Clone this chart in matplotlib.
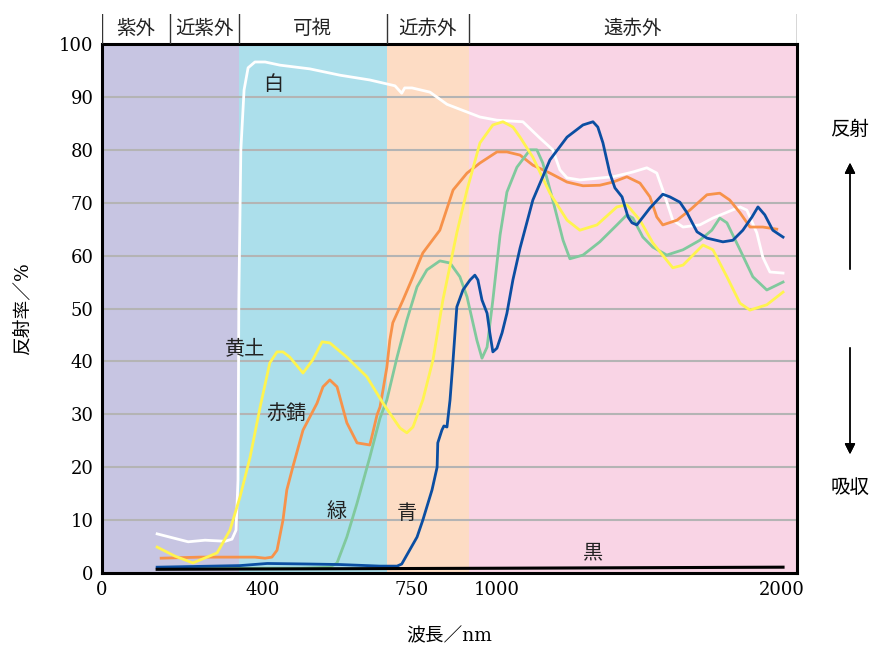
import numpy as np
import matplotlib
matplotlib.use("Agg")
import matplotlib.pyplot as plt

plt.rcParams['font.family'] = ['DejaVu Serif', 'Noto Sans CJK JP']

# wavelength (nm) / reflectance (%)
white_x = [137, 214, 256, 306, 323, 333, 338, 340, 345, 353, 363, 380, 405, 440, 510, 581, 651, 710, 726, 733,
           750, 803, 853, 950, 1000, 1091, 1151, 1196, 1221, 1246, 1291, 1407, 1477, 1526, 1561, 1582, 1617,
           1653, 1712, 1758, 1853, 1877, 1912, 1933, 1958, 2004]
white_y = [7.4, 5.9, 6.2, 6.0, 6.4, 8.1, 17.6, 51.6, 80, 91.3, 95.5, 96.6, 96.6, 96.0, 95.3, 94.1, 93.2, 92.1,
           90.7, 91.7, 91.7, 90.9, 88.6, 86.2, 85.6, 85.3, 82.2, 80, 76.2, 74.7, 74.3, 74.9, 75.8, 76.6, 75.6,
           72.4, 66.7, 65.4, 65.8, 67.1, 69.2, 68.6, 64.3, 59.7, 56.9, 56.7]

yellow_x = [137, 181, 226, 286, 318, 343, 368, 393, 416, 433, 447, 463, 494, 517, 539, 557, 597, 644, 682, 698,
            722, 738, 753, 782, 812, 841, 882, 912, 950, 988, 1021, 1056, 1081, 1126, 1186, 1246, 1291, 1351,
            1421, 1456, 1502, 1547, 1617, 1653, 1723, 1758, 1807, 1853, 1888, 1947, 2004]
yellow_y = [4.9, 3.2, 1.9, 3.8, 8.1, 14.4, 21.9, 31.4, 39.7, 41.8, 41.8, 40.8, 37.8, 40.3, 43.7, 43.5, 40.8,
            37.1, 32.1, 30.2, 27.4, 26.5, 27.6, 32.7, 40.3, 51.6, 64.3, 72.4, 81.3, 84.7, 85.3, 84.3, 82.4,
            78.6, 71.8, 66.7, 64.8, 65.8, 69.2, 69.6, 66.7, 62.4, 57.7, 58.2, 62.0, 61.1, 56.0, 51.0, 49.7,
            50.7, 53.1]

rust_x = [147, 243, 343, 380, 405, 421, 433, 447, 456, 470, 494, 527, 541, 557, 574, 597, 621, 651, 658, 668,
          675, 682, 691, 698, 705, 729, 753, 782, 832, 871, 912, 950, 1000, 1035, 1081, 1126, 1186, 1246,
          1302, 1361, 1407, 1456, 1502, 1537, 1561, 1582, 1632, 1677, 1737, 1782, 1817, 1853, 1888, 1933, 1982]
rust_y = [2.8, 3.0, 3.0, 3.0, 2.8, 3.0, 4.3, 10.0, 15.7, 20.0, 27.0, 32.1, 35.2, 36.5, 35.2, 28.4, 24.6, 24.2,
          26.5, 29.9, 31.4, 34.6, 38.9, 44.0, 47.3, 51.6, 56.0, 60.5, 64.8, 72.4, 75.6, 77.5, 79.6, 79.6,
          79.0, 77.1, 75.6, 73.9, 73.2, 73.3, 73.9, 74.9, 73.7, 71.1, 67.3, 65.8, 66.7, 68.6, 71.5, 71.8,
          70.5, 68.1, 65.4, 65.4, 65.0]

green_x = [144, 368, 490, 557, 574, 597, 621, 651, 675, 691, 715, 738, 765, 794, 832, 862, 891, 912, 941, 956,
           971, 988, 1011, 1035, 1070, 1116, 1140, 1161, 1196, 1232, 1256, 1302, 1361, 1421, 1456, 1477, 1512,
           1547, 1596, 1653, 1712, 1754, 1782, 1807, 1853, 1898, 1947, 2004]
green_y = [0.9, 0.9, 0.9, 1.1, 1.9, 6.8, 13.2, 21.9, 29.3, 32.7, 40.8, 47.8, 54.1, 57.3, 59.0, 58.6, 56.0,
           52.2, 44.0, 40.6, 42.7, 51.6, 63.9, 72.0, 76.7, 80.0, 80.0, 77.5, 70.5, 62.9, 59.4, 60.1, 62.6,
           65.8, 67.7, 67.1, 63.5, 61.6, 60.1, 61.1, 62.9, 64.8, 67.1, 66.2, 61.1, 56.0, 53.5, 55.0]

blue_x = [137, 343, 410, 504, 581, 675, 715, 726, 738, 765, 782, 809, 824, 826, 838, 844, 853, 862, 871, 882,
          900, 921, 935, 944, 956, 971, 979, 988, 1000, 1018, 1035, 1056, 1081, 1126, 1186, 1246, 1302, 1337,
          1354, 1372, 1396, 1414, 1439, 1460, 1474, 1491, 1537, 1582, 1607, 1642, 1667, 1702, 1737, 1793,
          1828, 1863, 1895, 1916, 1940, 1968, 2004]
blue_y = [1.1, 1.4, 1.8, 1.7, 1.6, 1.3, 1.3, 1.7, 3.4, 6.8, 10.0, 15.7, 20.0, 24.6, 27.0, 27.8, 27.6, 32.7,
          40.3, 50.3, 53.5, 55.4, 56.3, 55.4, 51.6, 49.1, 45.4, 41.8, 42.5, 45.4, 49.1, 55.4, 61.4, 70.5,
          78.1, 82.4, 84.7, 85.3, 84.3, 81.3, 75.6, 72.8, 71.1, 67.3, 66.2, 65.8, 69.0, 71.6, 71.1, 70.1,
          68.1, 64.5, 63.3, 62.6, 62.9, 64.8, 67.3, 69.2, 67.7, 64.8, 63.5]

black_x = [137, 1000, 2004]
black_y = [0.7, 0.9, 1.1]

# spectral regions
region_edges = [0, 169, 340, 691, 918, 2053]
region_names = ['紫外', '近紫外', '可視', '近赤外', '遠赤外']
band_edges = [0, 340, 691, 918, 2053]
band_colors = ['#c7c5e2', '#acdfeb', '#fddcc4', '#f9d4e5']

xticks = [0, 400, 750, 1000, 2000]
yticks = list(range(0, 101, 10))

# piecewise axis: segment lengths as on the original
knot_nm = np.array([0, 400, 750, 1000, 2000, 2100])
knot_pos = np.array([0, 161, 310, 395, 680, 708.5])


def fwd(x):
    return np.interp(x, knot_nm, knot_pos)


def inv(p):
    return np.interp(p, knot_pos, knot_nm)


fig = plt.figure(figsize=(8.72, 6.45), dpi=100)
W, H = 872, 645
x0, x1, y0, y1 = 102, 797, 44, 573
ax = fig.add_axes([x0 / W, 1 - y1 / H, (x1 - x0) / W, (y1 - y0) / H])
ax.set_xscale('function', functions=(fwd, inv))
ax.set_xlim(0, 2053)
ax.set_ylim(0, 100)

for i in range(len(band_colors)):
    ax.axvspan(band_edges[i], band_edges[i + 1], color=band_colors[i], lw=0, zorder=0)
for v in yticks[1:-1]:
    ax.axhline(v, color='#b4b4b4', lw=1.5, zorder=1)

lw = 2.0
ax.plot(white_x, white_y, color='white', lw=lw, zorder=3, solid_joinstyle='round')
ax.plot(rust_x, rust_y, color='#f7924a', lw=lw, zorder=3, solid_joinstyle='round')
ax.plot(green_x, green_y, color='#80c99d', lw=lw, zorder=3, solid_joinstyle='round')
ax.plot(yellow_x, yellow_y, color='#fff44f', lw=lw, zorder=4, solid_joinstyle='round')
ax.plot(blue_x, blue_y, color='#0b4ea2', lw=lw, zorder=5, solid_joinstyle='round')
ax.plot(black_x, black_y, color='black', lw=2.2, zorder=6)

lab = dict(fontsize=14.5, ha='center', va='center', color='#222222', zorder=7)
ax.text(423, 92.4, '白', **lab)
ax.text(355, 42.3, '黄土', **lab)
ax.text(456, 30.2, '赤錆', **lab)
ax.text(574, 11.7, '緑', **lab)
ax.text(738, 11.3, '青', **lab)
ax.text(1337, 3.8, '黒', **lab)

ax.set_xticks(xticks)
ax.set_xticklabels([str(t) for t in xticks])
ax.set_yticks(yticks)
ax.tick_params(length=0, labelsize=13, pad=6)
for s in ax.spines.values():
    s.set_linewidth(2.2)
ax.set_xlabel('波長／nm', fontsize=13.5, labelpad=20)
ax.set_ylabel('反射率／%', fontsize=13.5, labelpad=20)

# region header above the plot
axt = fig.add_axes([x0 / W, 1 - y0 / H, (x1 - x0) / W, 30 / H], sharex=ax)
axt.set_xlim(0, 2053)
axt.set_ylim(0, 1)
axt.axis('off')
for e in region_edges:
    axt.axvline(e, color='#333333', lw=1.0)
for i, name in enumerate(region_names):
    mid = inv((fwd(region_edges[i]) + fwd(region_edges[i + 1])) / 2)
    axt.text(mid, 0.5, name, fontsize=14, ha='center', va='center', color='#222222')

# reflect / absorb arrows at the right
fig.text(850 / W, 1 - 130 / H, '反射', fontsize=14, ha='center', va='center')
fig.text(850 / W, 1 - 488 / H, '吸収', fontsize=14, ha='center', va='center')
arr = dict(arrowstyle='-|>', color='black', lw=1.0, mutation_scale=16)
fig.add_artist(plt.annotate('', xy=(850 / W, 1 - 160 / H), xytext=(850 / W, 1 - 272 / H),
                            xycoords='figure fraction', arrowprops=arr))
fig.add_artist(plt.annotate('', xy=(850 / W, 1 - 457 / H), xytext=(850 / W, 1 - 345 / H),
                            xycoords='figure fraction', arrowprops=arr))

fig.savefig('out.png', dpi=100)
